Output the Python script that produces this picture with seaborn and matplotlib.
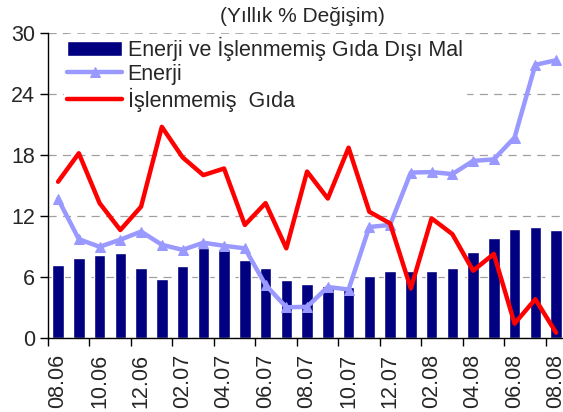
import numpy as np
import pandas as pd
import matplotlib
matplotlib.use("Agg")
import matplotlib.pyplot as plt
import seaborn as sns

# months from 08.06 to 08.08
months = ["08.06", "09.06", "10.06", "11.06", "12.06", "01.07", "02.07", "03.07",
          "04.07", "05.07", "06.07", "07.07", "08.07", "09.07", "10.07", "11.07",
          "12.07", "01.08", "02.08", "03.08", "04.08", "05.08", "06.08", "07.08", "08.08"]

# Enerji ve İşlenmemiş Gıda Dışı Mal (bars)
core_goods = [7.2, 7.9, 8.2, 8.4, 6.9, 5.8, 7.1, 8.9, 8.75, 7.7, 6.9, 5.7, 5.35,
              5.15, 5.05, 6.1, 6.65, 6.65, 6.65, 6.9, 8.5, 9.9, 10.8, 10.95, 10.65]

# Enerji
energy = [13.7, 9.75, 9.0, 9.7, 10.5, 9.2, 8.7, 9.4, 9.1, 8.85, 5.25, 3.05, 3.1,
          5.05, 4.8, 10.95, 11.15, 16.3, 16.35, 16.15, 17.45, 17.6, 19.75, 26.9, 27.35]

# İşlenmemiş Gıda
food = [15.4, 18.2, 13.3, 10.65, 12.95, 20.8, 17.8, 16.05, 16.7, 11.15, 13.3, 8.85,
        16.4, 13.75, 18.75, 12.45, 11.3, 4.9, 11.8, 10.25, 6.65, 8.3, 1.45, 3.85, 0.55]

df = pd.DataFrame({"idx": np.arange(len(months)), "month": months,
                   "core": core_goods, "energy": energy, "food": food})

sns.set_style("white")
plt.rcParams["font.family"] = ["Liberation Sans", "DejaVu Sans"]

fig = plt.figure(figsize=(5.63, 4.12), dpi=100)
ax = fig.add_axes([47.7 / 563, (412 - 338.3) / 412, 518.75 / 563, 305 / 412])

sns.barplot(data=df, x="idx", y="core", color="#000080", saturation=1,
            width=0.56, ax=ax, label="Enerji ve İşlenmemiş Gıda Dışı Mal",
            native_scale=True, zorder=2)
sns.lineplot(data=df, x="idx", y="energy", color="#9999FF", linewidth=3.2,
             marker="^", markersize=7.5, markeredgecolor="#9999FF", ax=ax,
             label="Enerji", zorder=3)
sns.lineplot(data=df, x="idx", y="food", color="#FF0000", linewidth=3.2,
             ax=ax, label="İşlenmemiş  Gıda", zorder=4)

ax.set_xlim(-0.5, len(months) - 0.5)
ax.set_ylim(0, 30)
ax.set_yticks([0, 6, 12, 18, 24, 30])
ax.yaxis.grid(True, linestyle=(0, (6.5, 5)), color="#a0a0a0", linewidth=0.9)
ax.set_axisbelow(True)

# tick marks between categories, labels at category centers
ax.set_xticks(np.arange(-0.5, len(months) - 1, 2))
ax.set_xticklabels([])
ax.set_xticks(np.arange(0, len(months), 2), minor=True)
ax.set_xticklabels(months[::2], minor=True, rotation=90, fontsize=15.5)
ax.tick_params(axis="x", which="minor", length=0, pad=11)
ax.tick_params(axis="x", which="major", length=6, width=1, color="black", direction="out")
ax.tick_params(axis="y", length=6, width=1, color="black", direction="out",
               labelsize=15.5, pad=3)
ax.tick_params(bottom=True, left=True)

for s in ["top", "right"]:
    ax.spines[s].set_visible(False)
for s in ["left", "bottom"]:
    ax.spines[s].set_color("black")
    ax.spines[s].set_linewidth(1)

ax.set_xlabel("")
ax.set_ylabel("")

handles, labels = ax.get_legend_handles_labels()
order = [labels.index("Enerji ve İşlenmemiş Gıda Dışı Mal"), labels.index("Enerji"),
         labels.index("İşlenmemiş  Gıda")]
leg = ax.legend([handles[i] for i in order], [labels[i] for i in order],
                loc="upper left", bbox_to_anchor=(64 / 563, 1 - 34 / 412),
                bbox_transform=fig.transFigure, frameon=True,
                fontsize=15.5, handlelength=2.55, handletextpad=0.25,
                labelspacing=0.12, borderpad=0.15, borderaxespad=0, framealpha=1)
leg.get_frame().set_edgecolor("white")
leg.get_frame().set_facecolor("white")
leg.set_zorder(10)

fig.text(302 / 563, 1 - 17 / 412, "(Yıllık % Değişim)", ha="center", va="center",
         fontsize=15)

plt.savefig("out.png", dpi=100)
